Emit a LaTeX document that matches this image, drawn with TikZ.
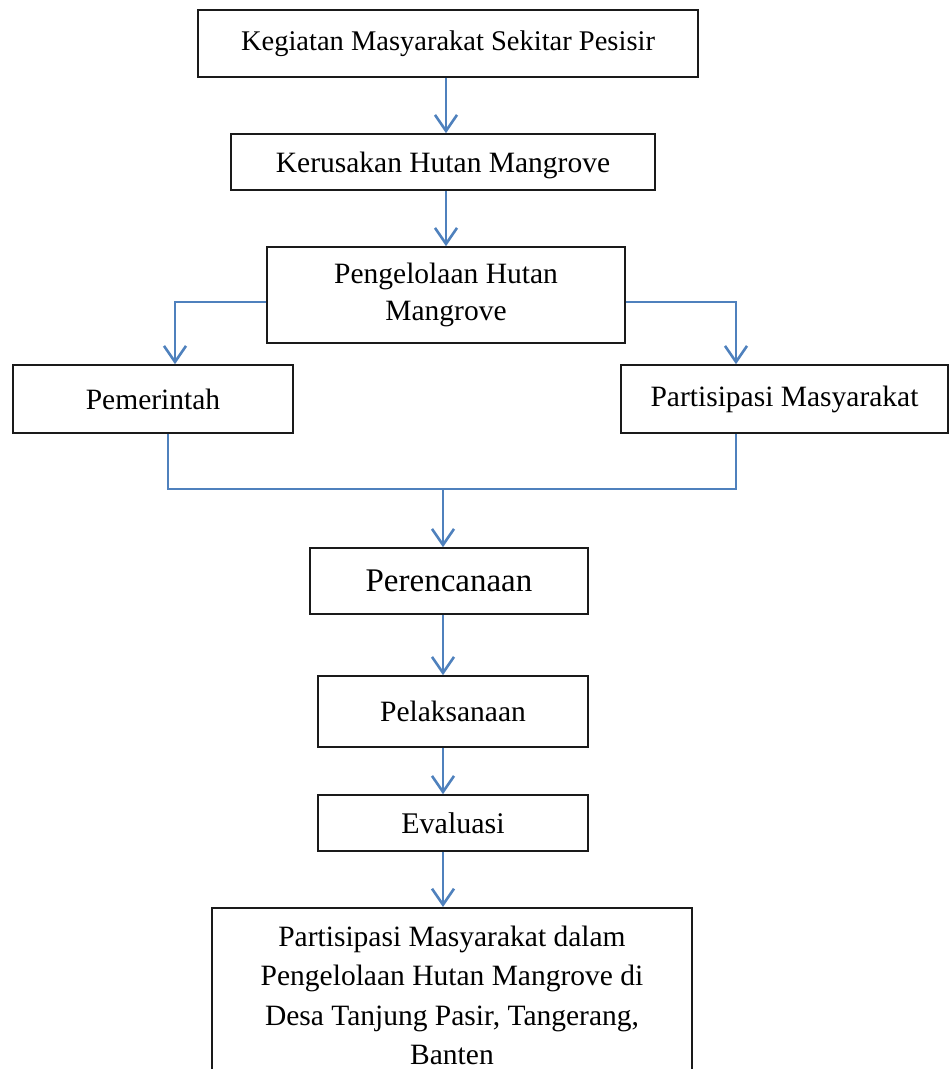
\documentclass[tikz,border=0pt]{standalone}
\usepackage{fontspec}
\setmainfont{Liberation Serif}
\usetikzlibrary{arrows.meta,calc}
\definecolor{flowblue}{HTML}{4F81BD}
\definecolor{boxline}{HTML}{1A1A1A}
\tikzset{
  box/.style={draw=boxline, line width=1.6pt, rectangle, inner sep=0pt, align=center, font=\fontsize{29.5}{37}\selectfont},
  conn/.style={draw=flowblue, line width=2.6pt},
  arr/.style={conn, -{Straight Barb[length=16pt,width=22pt,line width=2.6pt]}}
}
\begin{document}
\begin{tikzpicture}[x=1pt,y=-1pt]
\useasboundingbox (0,0) rectangle (950,1069);
\clip (0,0) rectangle (950,1069);
\node[box, minimum width=500pt, minimum height=67pt, font=\fontsize{28.5}{34}\selectfont] (k1) at (448,43.5) {Kegiatan Masyarakat Sekitar Pesisir};
\node[box, minimum width=424pt, minimum height=56pt, text depth=0pt] (k2) at (443,162) {Kerusakan Hutan Mangrove};
\node[box, minimum width=358pt, minimum height=96pt] (k3) at (446,295) {Pengelolaan Hutan\\Mangrove};
\node[box, minimum width=280pt, minimum height=68pt] (pem) at (153,399) {Pemerintah};
\node[box, minimum width=327pt, minimum height=68pt] (par) at (784.5,399) {Partisipasi Masyarakat};
\node[box, minimum width=278pt, minimum height=66pt, font=\fontsize{33}{39}\selectfont] (per) at (449,581) {Perencanaan};
\node[box, minimum width=270pt, minimum height=71pt, font=\fontsize{29.5}{35}\selectfont] (pel) at (453,711.5) {Pelaksanaan};
\node[box, minimum width=270pt, minimum height=56pt, font=\fontsize{30}{35}\selectfont] (eva) at (453,823) {Evaluasi};
\node[box, minimum width=480pt, minimum height=174pt, anchor=north] (fin) at (452,907) {};
\node[font=\fontsize{29.5}{39.3}\selectfont, align=center, anchor=north, inner sep=0pt] (fint) at (452,926) {Partisipasi Masyarakat dalam\\Pengelolaan Hutan Mangrove di\\Desa Tanjung Pasir, Tangerang,\\Banten};
\coordinate (mj) at (443,489);
\draw[arr] ([xshift=-2pt]k1.south) -- ([xshift=-2pt]k1.south |- k2.north);
\draw[arr] ([xshift=3pt]k2.south) -- ([xshift=3pt]k2.south |- k3.north);
\draw[arr] ([yshift=-7pt]k3.west) -| ([xshift=22pt]pem.north);
\draw[arr] ([yshift=-7pt]k3.east) -| ([xshift=-48.5pt]par.north);
\draw[conn] ([xshift=15pt]pem.south) |- ([xshift=-48.5pt]par.south |- mj) -- ([xshift=-48.5pt]par.south);
\draw[arr] (mj) -- (mj |- per.north);
\draw[arr] (per.south -| mj) -- (pel.north -| mj);
\draw[arr] (pel.south -| mj) -- (eva.north -| mj);
\draw[arr] (eva.south -| mj) -- (fin.north -| mj);
\end{tikzpicture}
\end{document}
